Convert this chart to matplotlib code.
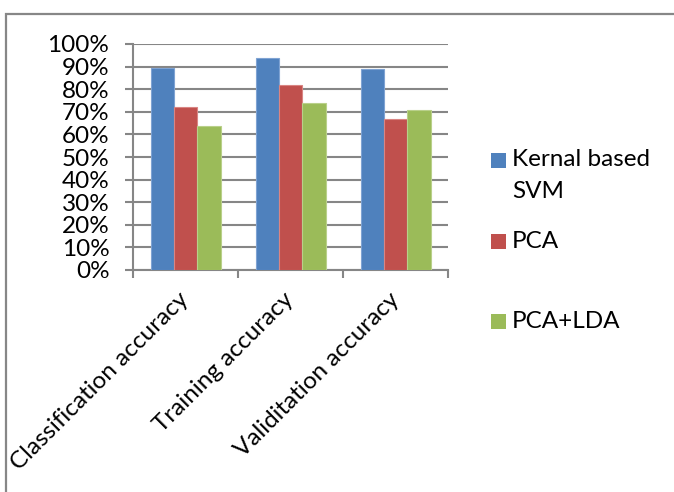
import matplotlib
matplotlib.use("Agg")
import matplotlib.pyplot as plt
from matplotlib.patches import Rectangle
from matplotlib.ticker import PercentFormatter, FixedLocator
import numpy as np

categories = ["Classification accuracy", "Training accuracy", "Validitation accuracy"]
series_names = ["Kernal based\nSVM", "PCA", "PCA+LDA"]
svm_values = [89.5, 94, 89]
pca_values = [72, 82, 67]
pca_lda_values = [63.5, 74, 71]
y_ticks = list(range(0, 101, 10))

colors = ["#4F81BD", "#C0504D", "#9BBB59"]
edge_colors = ["#7FA3D3", "#D98583", "#B9D08A"]
grid_color = "#868686"
fs = 17.5

plt.rcParams["font.family"] = ["Lato", "DejaVu Sans"]

W, H = 674, 492
fig = plt.figure(figsize=(W / 100, H / 100), dpi=100)

# outer chart frame
fig.add_artist(Rectangle((6 / W, -0.05), 1.1, 1.05 - 14 / H, transform=fig.transFigure,
                         fill=False, edgecolor="#878787", linewidth=1.6))

ax = fig.add_axes([133 / W, (H - 270) / H, 315 / W, 226 / H])

x = np.arange(len(categories))
bar_w = 1 / 4.5
all_values = [svm_values, pca_values, pca_lda_values]
for i, (vals, c, ec) in enumerate(zip(all_values, colors, edge_colors)):
    ax.bar(x + (i - 1) * bar_w, vals, width=bar_w, color=c, edgecolor=ec,
           linewidth=0.8, zorder=3)

ax.set_xlim(-0.5, len(categories) - 0.5)
ax.set_ylim(0, 100)
ax.set_yticks(y_ticks)
ax.yaxis.set_major_formatter(PercentFormatter(decimals=0))
ax.grid(axis="y", color=grid_color, linewidth=1.5, zorder=0)
ax.set_axisbelow(True)

for s in ["top", "right"]:
    ax.spines[s].set_visible(False)
for s in ["left", "bottom"]:
    ax.spines[s].set_color(grid_color)
    ax.spines[s].set_linewidth(1.5)

ax.tick_params(axis="y", length=6, width=1.5, color=grid_color, pad=11,
               labelsize=fs, labelcolor="black")
ax.xaxis.set_major_locator(FixedLocator(np.arange(len(categories) + 1) - 0.5))
ax.xaxis.set_minor_locator(FixedLocator(x))
ax.tick_params(axis="x", which="major", length=6, width=1.5, color=grid_color,
               labelbottom=False)
ax.tick_params(axis="x", which="minor", length=0, pad=19)
ax.set_xticks(x, minor=True)
ax.set_xticklabels(categories, minor=True, rotation=45, ha="right",
                   va="center", rotation_mode="anchor", fontsize=fs)

# legend drawn as swatches with labels to the right of the plot
legend_rows = [160, 241.5, 321.5]
for name, c, yc in zip(series_names, colors, legend_rows):
    fig.add_artist(Rectangle((491 / W, (H - yc - 7.5) / H), 15 / W, 15 / H,
                             transform=fig.transFigure, facecolor=c,
                             edgecolor="none"))
    fig.text(512 / W, (H - yc) / H, name.split("\n")[0], fontsize=fs,
             va="center", ha="left")
    for k, extra in enumerate(name.split("\n")[1:], start=1):
        fig.text(512 / W, (H - yc - 32 * k) / H, extra, fontsize=fs,
                 va="center", ha="left")

fig.savefig("out.png", dpi=100)
